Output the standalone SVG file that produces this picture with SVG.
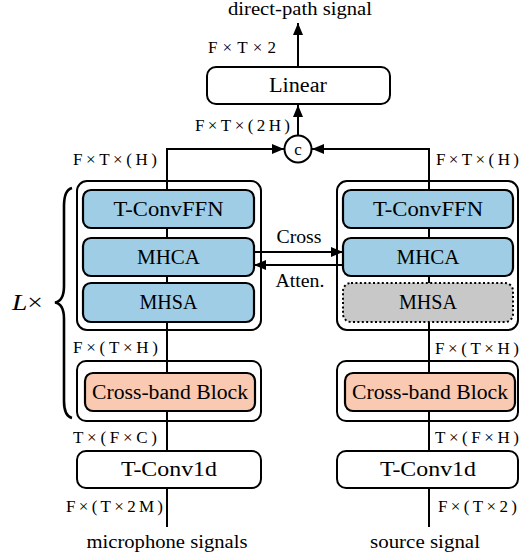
<svg xmlns="http://www.w3.org/2000/svg" width="520" height="558" viewBox="0 0 520 558">
<style>
.box{font-size:20px;text-anchor:middle}
.dim{font-size:17px}
.cap{font-size:18px;text-anchor:middle}
.ln{stroke:#000;stroke-width:2;fill:none}
.outer{stroke:#000;stroke-width:2;fill:none}
.blue{stroke:#000;stroke-width:2.2;fill:#9ECDE5}
.salmon{stroke:#000;stroke-width:2.2;fill:#F9C9B2}
.white{stroke:#000;stroke-width:2;fill:#fff}
.gray{stroke:#000;stroke-width:2;fill:#C8C8C8;stroke-dasharray:2 2.4}
</style>
<defs>
<marker id="ah" markerUnits="userSpaceOnUse" markerWidth="12" markerHeight="10" refX="12" refY="5" orient="auto">
<path d="M0,0 L12,5 L0,10 z" fill="#000"/>
</marker>
</defs>
<rect width="520" height="558" fill="#fff"/>
<g id="connectors">
<path class="ln" d="M167,527 V149 H284" marker-end="url(#ah)"/>
<path class="ln" d="M429,527 V149 H312" marker-end="url(#ah)"/>
<path class="ln" d="M298,135 V105" marker-end="url(#ah)"/>
<path class="ln" d="M298,67 V23" marker-end="url(#ah)"/>
<path class="ln" d="M254,252 H343" marker-end="url(#ah)"/>
<path class="ln" d="M343,265 H254" marker-end="url(#ah)"/>
</g>
<g font-family="Liberation Serif, DejaVu Serif, serif" fill="#000">
<g id="outer-left-top"><rect class="outer" x="77" y="181" width="184" height="149" rx="10"/></g>
<g id="outer-right-top"><rect class="outer" x="337" y="181" width="181" height="149" rx="10"/></g>
<g id="outer-left-bottom"><rect class="outer" x="77" y="361" width="184" height="60" rx="9"/></g>
<g id="outer-right-bottom"><rect class="outer" x="337" y="361" width="181" height="60" rx="9"/></g>
<g id="linear"><rect class="white" x="207" y="67" width="183" height="37" rx="9"/><text class="box" x="298" y="92" textLength="58" lengthAdjust="spacingAndGlyphs">Linear</text></g>
<g id="concat"><circle cx="298" cy="149" r="13.5" fill="#fff" stroke="#000" stroke-width="2"/><text x="298" y="155" font-size="17" text-anchor="middle">c</text></g>
<g id="tconvffn-left"><rect class="blue" x="83" y="190" width="171" height="38" rx="8"/><text class="box" x="168.5" y="216" textLength="110" lengthAdjust="spacingAndGlyphs">T-ConvFFN</text></g>
<g id="mhca-left"><rect class="blue" x="83" y="238" width="171" height="38" rx="8"/><text class="box" x="168.5" y="264" textLength="63" lengthAdjust="spacingAndGlyphs">MHCA</text></g>
<g id="mhsa-left"><rect class="blue" x="83" y="283" width="171" height="39" rx="8"/><text class="box" x="168.5" y="309" textLength="58" lengthAdjust="spacingAndGlyphs">MHSA</text></g>
<g id="tconvffn-right"><rect class="blue" x="343" y="190" width="170" height="38" rx="8"/><text class="box" x="428" y="216" textLength="110" lengthAdjust="spacingAndGlyphs">T-ConvFFN</text></g>
<g id="mhca-right"><rect class="blue" x="343" y="238" width="170" height="38" rx="8"/><text class="box" x="428" y="264" textLength="63" lengthAdjust="spacingAndGlyphs">MHCA</text></g>
<g id="mhsa-right"><rect class="gray" x="343" y="283" width="170" height="39" rx="8"/><text class="box" x="428" y="309" textLength="58" lengthAdjust="spacingAndGlyphs">MHSA</text></g>
<g id="crossband-left"><rect class="salmon" x="85" y="373" width="170" height="38" rx="8"/><text class="box" x="170" y="399" textLength="156" lengthAdjust="spacingAndGlyphs">Cross-band Block</text></g>
<g id="crossband-right"><rect class="salmon" x="345" y="373" width="170" height="38" rx="8"/><text class="box" x="430" y="399" textLength="156" lengthAdjust="spacingAndGlyphs">Cross-band Block</text></g>
<g id="tconv1d-left"><rect class="white" x="77" y="451" width="184" height="37" rx="9"/><text class="box" x="169" y="476" textLength="96" lengthAdjust="spacingAndGlyphs">T-Conv1d</text></g>
<g id="tconv1d-right"><rect class="white" x="337" y="451" width="181" height="37" rx="9"/><text class="box" x="428" y="476" textLength="96" lengthAdjust="spacingAndGlyphs">T-Conv1d</text></g>
<g id="brace"><path d="M72,188 Q64,190 64,206 L64,286 Q64,301 55,302.5 Q64,304 64,319 L64,401 Q64,416 72,418" fill="none" stroke="#000" stroke-width="2.6"/><text x="12" y="310" font-size="23" textLength="31" lengthAdjust="spacingAndGlyphs"><tspan font-style="italic">L</tspan>×</text></g>
<g id="labels">
<text class="cap" x="300" y="15" textLength="144" lengthAdjust="spacingAndGlyphs">direct-path signal</text>
<text class="dim" x="208" y="53" textLength="68" lengthAdjust="spacing">F×T×2</text>
<text class="dim" x="195" y="131" textLength="95" lengthAdjust="spacing">F×T×(2H)</text>
<text class="dim" x="73" y="165" textLength="84" lengthAdjust="spacing">F×T×(H)</text>
<text class="dim" x="436" y="165" textLength="83" lengthAdjust="spacing">F×T×(H)</text>
<text class="cap" x="299" y="243" textLength="45" lengthAdjust="spacingAndGlyphs">Cross</text>
<text class="cap" x="300" y="287" textLength="49" lengthAdjust="spacingAndGlyphs">Atten.</text>
<text class="dim" x="73" y="353" textLength="85" lengthAdjust="spacing">F×(T×H)</text>
<text class="dim" x="435" y="354" textLength="84" lengthAdjust="spacing">F×(T×H)</text>
<text class="dim" x="73" y="443" textLength="84" lengthAdjust="spacing">T×(F×C)</text>
<text class="dim" x="435" y="443" textLength="84" lengthAdjust="spacing">T×(F×H)</text>
<text class="dim" x="66" y="512" textLength="97" lengthAdjust="spacing">F×(T×2M)</text>
<text class="dim" x="438" y="512" textLength="79" lengthAdjust="spacing">F×(T×2)</text>
<text class="cap" x="167" y="548" textLength="161" lengthAdjust="spacingAndGlyphs">microphone signals</text>
<text class="cap" x="425" y="548" textLength="110" lengthAdjust="spacingAndGlyphs">source signal</text>
</g>
</g>
</svg>
